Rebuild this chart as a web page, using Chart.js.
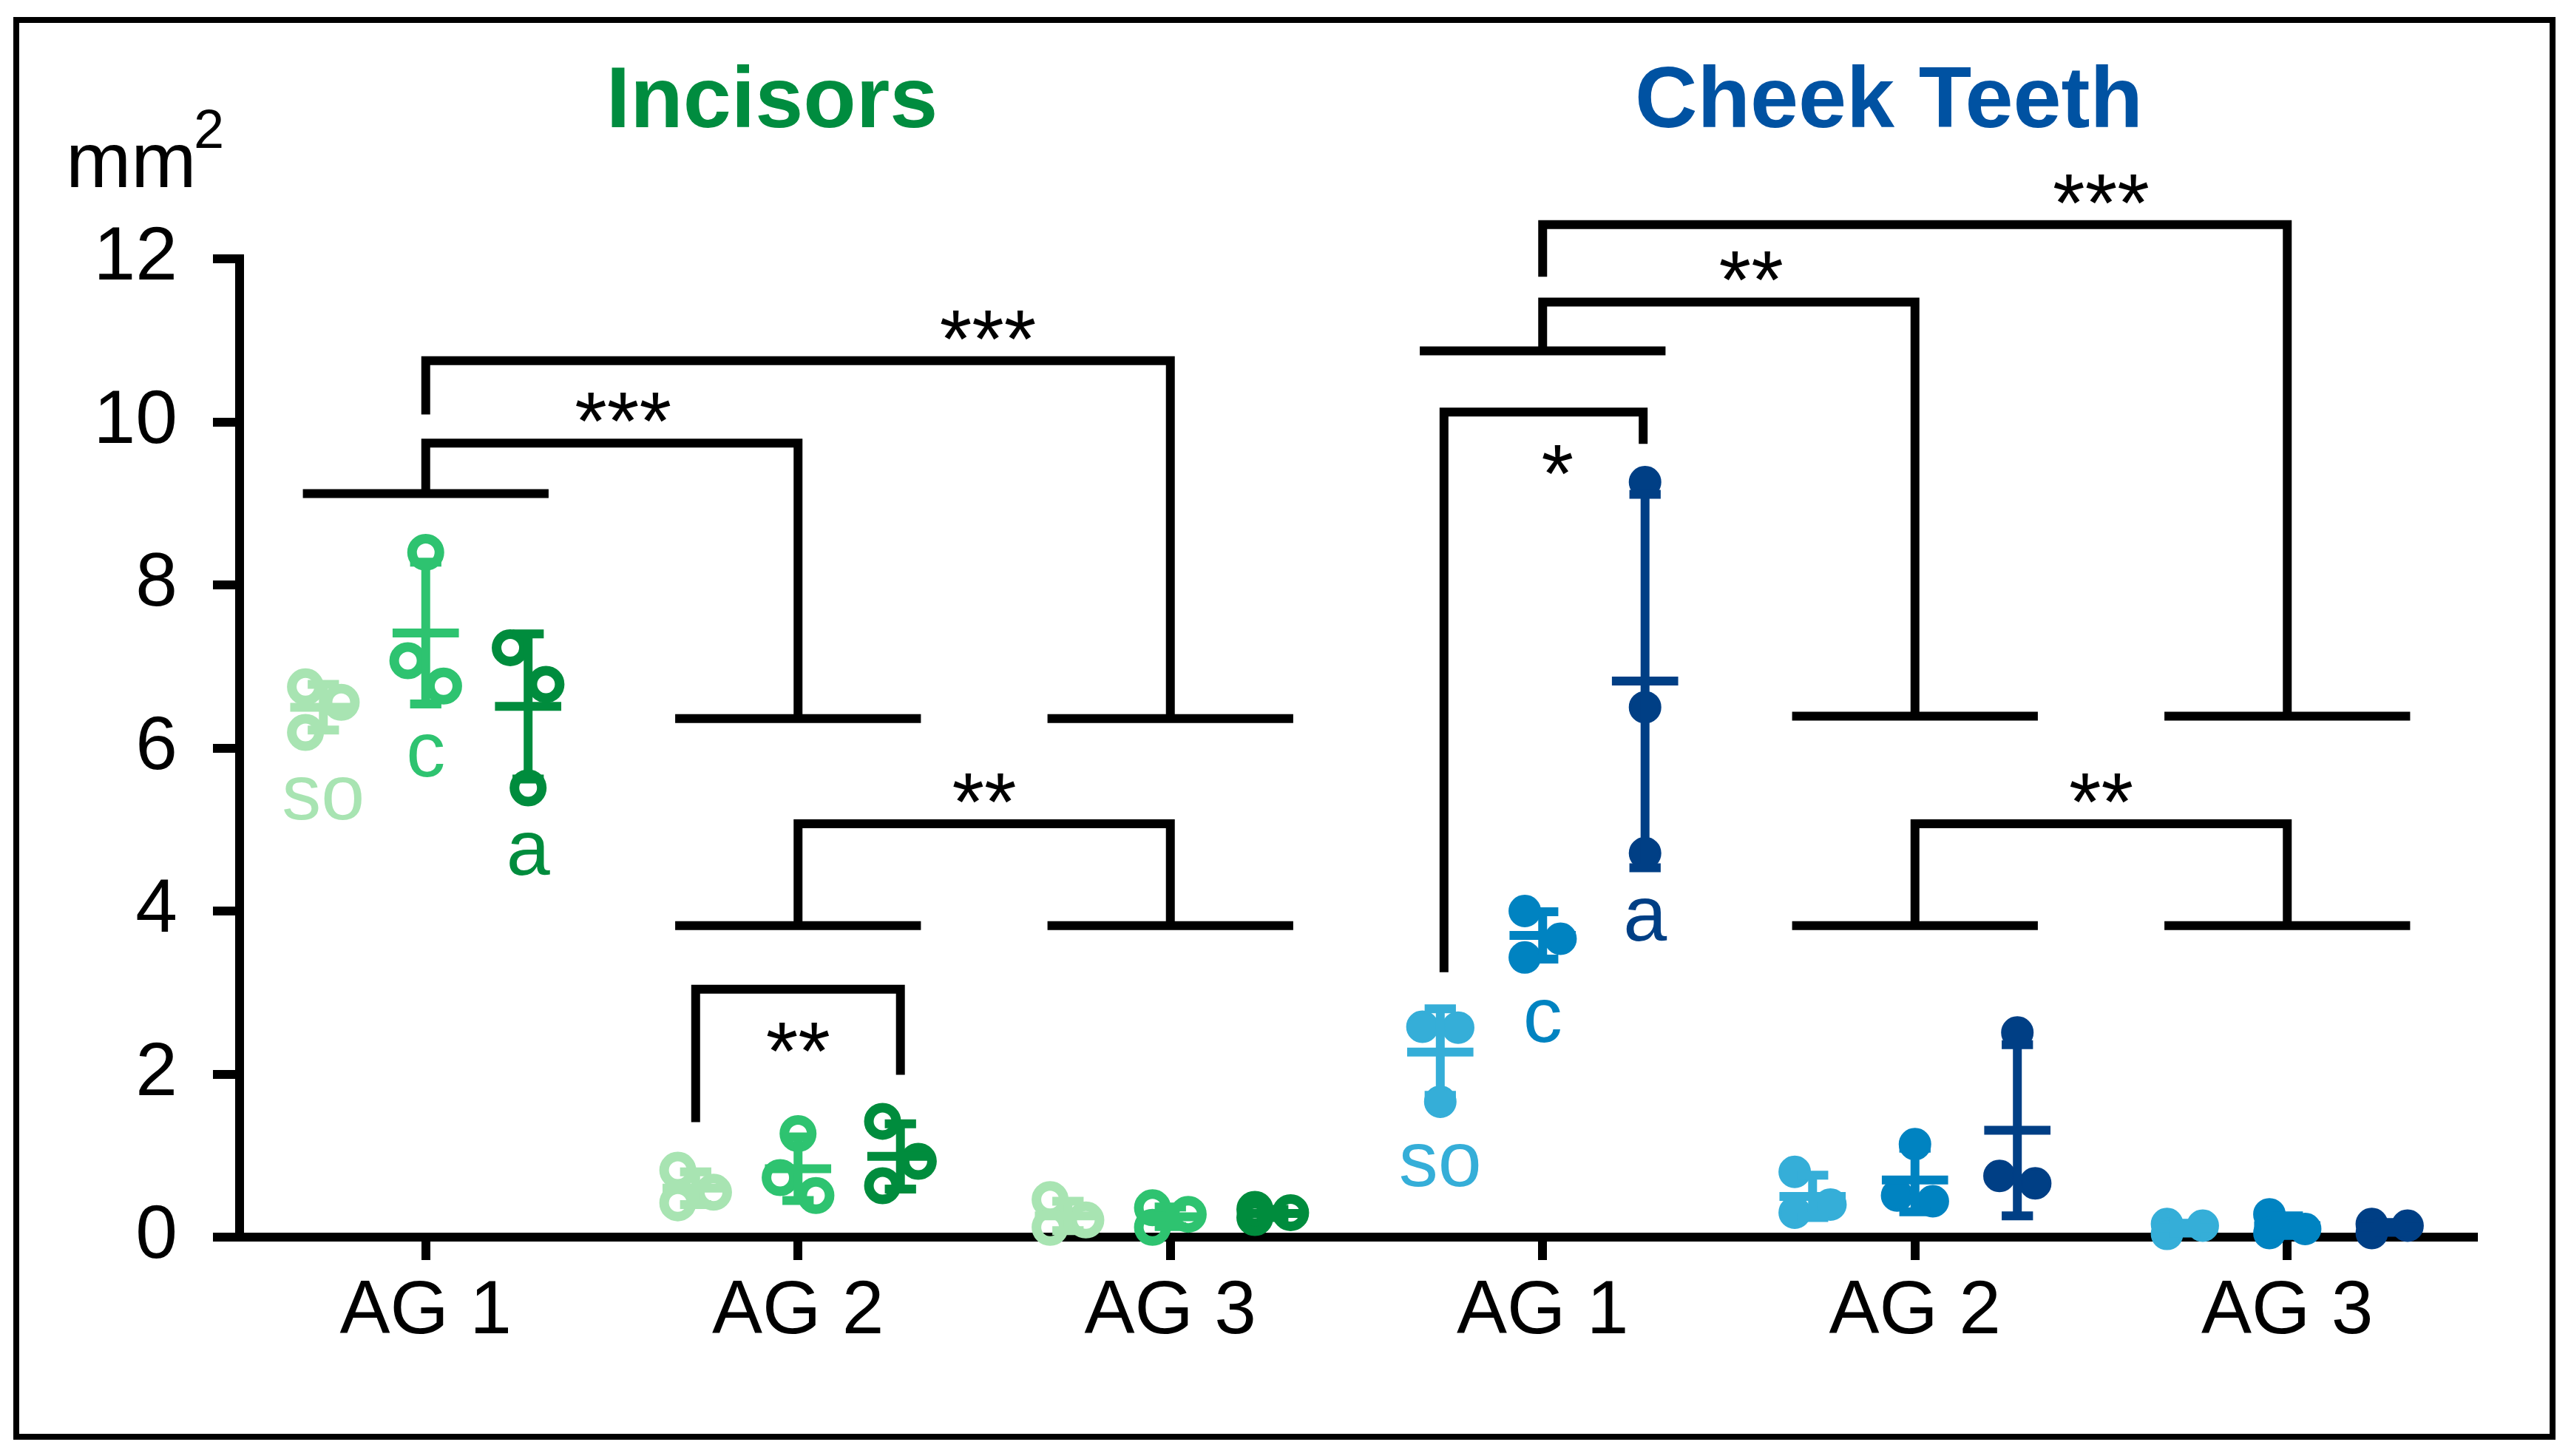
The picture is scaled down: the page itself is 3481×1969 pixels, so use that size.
<!DOCTYPE html>
<html>
<head>
<meta charset="utf-8">
<title>Incisors / Cheek Teeth</title>
<script src="https://cdn.jsdelivr.net/npm/chart.js@4.4.1/dist/chart.umd.min.js"></script>
<style>
  html, body { margin: 0; padding: 0; background: #fff; }
  canvas { display: block; }
</style>
</head>
<body>
<canvas id="teethChart" width="3481" height="1969"></canvas>
<script>
const categories = ['AG 1', 'AG 2', 'AG 3', 'AG 1', 'AG 2', 'AG 3'];
const subgroups = ['so', 'c', 'a'];
const panelTitles = ['Incisors', 'Cheek Teeth'];
const yTicks = [0, 2, 4, 6, 8, 10, 12];

// single animals (mm2), one list per category
const soValues = [[6.75, 6.56, 6.19], [0.82, 0.55, 0.42], [0.46, 0.21, 0.12], [2.58, 2.57, 1.66], [0.80, 0.40, 0.30], [0.16, 0.14, 0.04]];
const cValues = [[8.40, 7.07, 6.76], [1.27, 0.73, 0.51], [0.36, 0.28, 0.12], [4.00, 3.66, 3.43], [1.14, 0.51, 0.44], [0.28, 0.10, 0.05]];
const aValues = [[7.23, 6.78, 5.51], [1.42, 0.93, 0.63], [0.34, 0.30, 0.24], [9.26, 6.50, 4.71], [2.51, 0.75, 0.66], [0.16, 0.14, 0.05]];

// mean and SD bars
const soMean = [6.50, 0.60, 0.26, 2.27, 0.50, 0.11];
const soSD = [0.28, 0.20, 0.18, 0.53, 0.26, 0.06];
const cMean = [7.41, 0.84, 0.25, 3.70, 0.70, 0.14];
const cSD = [0.87, 0.39, 0.12, 0.29, 0.39, 0.12];
const aMean = [6.51, 0.99, 0.29, 6.82, 1.31, 0.12];
const aSD = [0.89, 0.40, 0.05, 2.29, 1.05, 0.06];

// significance: level lines over a category, and brackets between them
const groupLines = [[0, 9.12], [1, 6.36], [2, 6.36], [1, 3.82], [2, 3.82], [3, 10.87], [4, 6.39], [5, 6.39], [4, 3.82], [5, 3.82]];
const brackets = [
  { x1: 0, y1: 9.12, x2: 1, y2: 6.36, top: 9.74, text: '***', textX: 0.53 },
  { x1: 0, y1: 10.09, x2: 2, y2: 6.36, top: 10.75, text: '***', textX: 1.51 },
  { x1: 1, y1: 3.82, x2: 2, y2: 3.82, top: 5.07, text: '**', textX: 1.5 },
  { x1: 0.725, y1: 1.41, x2: 1.275, y2: 1.99, top: 3.04, text: '**', textX: 1.0, below: true },
  { x1: 3, y1: 10.87, x2: 4, y2: 6.39, top: 11.47, text: '**', textX: 3.56 },
  { x1: 3, y1: 11.78, x2: 5, y2: 6.39, top: 12.42, text: '***', textX: 4.5 },
  { x1: 2.735, y1: 3.25, x2: 3.27, y2: 9.73, top: 10.12, text: '*', textX: 3.04, below: true },
  { x1: 4, y1: 3.82, x2: 5, y2: 3.82, top: 5.07, text: '**', textX: 4.5 },
];

const FONT = '"Liberation Sans", Arial, Helvetica, sans-serif';
const SUB_STEP = 0.275;   // so / c / a side by side
const JITTER = 0.048;
const OVERLAP = 0.5;
const MEAN_HALF = 0.089;
const CAP_HALF = 0.042;

const palette = [
  ['#a8e4b2', '#2ec370', '#008c3d'],
  ['#35aed8', '#0083c1', '#003f85'],
];
const titleColors = ['#008c3f', '#0052a2'];

const series = [
  { values: soValues, mean: soMean, sd: soSD },
  { values: cValues, mean: cMean, sd: cSD },
  { values: aValues, mean: aMean, sd: aSD },
];

// push overlapping neighbours left/right like a small beeswarm
const spread = (values) => {
  const idx = values.map((v, i) => i).sort((a, b) => values[b] - values[a]);
  const offs = values.map(() => 0);
  let run = [idx[0]];
  const flush = () => {
    if (run.length > 1) run.forEach((k, j) => { offs[k] = (j % 2 ? 1 : -1) * JITTER; });
  };
  for (let j = 1; j < idx.length; j++) {
    if (values[idx[j - 1]] - values[idx[j]] < OVERLAP) {
      run.push(idx[j]);
    } else {
      flush();
      run = [idx[j]];
    }
  }
  flush();
  return offs;
};

const gap = (x) => ({ x: x, y: null });

const datasets = [];
[0, 1].forEach(panel => {
  const cats = [0, 1, 2].map(i => i + panel * 3);
  series.forEach((s, si) => {
    const color = palette[panel][si];
    const off = (si - 1) * SUB_STEP;
    const points = [];
    const bars = [];
    cats.forEach(ci => {
      const jit = spread(s.values[ci]);
      s.values[ci].forEach((v, k) => points.push({ x: ci + off + jit[k], y: v }));
      const cx = ci + off;
      const m = s.mean[ci];
      const lo = m - s.sd[ci];
      const hi = m + s.sd[ci];
      bars.push(
        { x: cx - MEAN_HALF, y: m }, { x: cx + MEAN_HALF, y: m }, gap(cx),
        { x: cx, y: lo }, { x: cx, y: hi }, gap(cx),
        { x: cx - CAP_HALF, y: hi }, { x: cx + CAP_HALF, y: hi }, gap(cx),
        { x: cx - CAP_HALF, y: lo }, { x: cx + CAP_HALF, y: lo }, gap(cx)
      );
    });
    datasets.push({
      label: subgroups[si] + ' points',
      data: points,
      order: 1,
      clip: false,
      pointStyle: 'circle',
      pointRadius: panel === 0 ? 18.5 : 20,
      pointBorderWidth: panel === 0 ? 13 : 4,
      pointBorderColor: color,
      pointBackgroundColor: panel === 0 ? 'rgba(0,0,0,0)' : color,
      pointHoverRadius: panel === 0 ? 18.5 : 20,
    });
    datasets.push({
      label: subgroups[si] + ' mean SD',
      data: bars,
      order: 0,
      clip: false,
      showLine: true,
      spanGaps: false,
      borderColor: color,
      borderWidth: 12,
      borderCapStyle: 'butt',
      pointRadius: 0,
      pointHoverRadius: 0,
    });
  });
});

const bracketData = [];
groupLines.forEach(([c, y]) => {
  bracketData.push({ x: c - 0.33, y: y }, { x: c + 0.33, y: y }, gap(c));
});
brackets.forEach(b => {
  bracketData.push(
    { x: b.x1, y: b.y1 }, { x: b.x1, y: b.top },
    { x: b.x2, y: b.top }, { x: b.x2, y: b.y2 }, gap(b.x2)
  );
});
datasets.push({
  label: 'significance',
  data: bracketData,
  order: 2,
  clip: false,
  showLine: true,
  spanGaps: false,
  borderColor: '#000',
  borderWidth: 12,
  borderCapStyle: 'butt',
  borderJoinStyle: 'miter',
  pointRadius: 0,
  pointHoverRadius: 0,
});

const decorPlugin = {
  id: 'decor',
  afterDatasetsDraw(chart) {
    const { ctx, scales: { x, y } } = chart;
    ctx.save();

    // outer frame
    ctx.strokeStyle = '#000';
    ctx.lineWidth = 8;
    ctx.strokeRect(22, 27, 3430, 1916);

    // stars
    ctx.fillStyle = '#000';
    ctx.font = `112px ${FONT}`;
    ctx.textAlign = 'center';
    ctx.textBaseline = 'alphabetic';
    brackets.forEach(b => {
      const cy = y.getPixelForValue(b.top) + (b.below ? 58 : -55);
      ctx.fillText(b.text, x.getPixelForValue(b.textX), cy + 64);
    });

    // so / c / a under the AG 1 groups
    ctx.font = `106px ${FONT}`;
    [0, 3].forEach(ci => {
      const panel = ci < 3 ? 0 : 1;
      const r = panel === 0 ? 25 : 22;
      series.forEach((s, si) => {
        const low = Math.min(...s.values[ci]);
        const bottom = Math.max(y.getPixelForValue(low) + r, y.getPixelForValue(s.mean[ci] - s.sd[ci]) + 6);
        ctx.fillStyle = palette[panel][si];
        ctx.fillText(subgroups[si], x.getPixelForValue(ci + (si - 1) * SUB_STEP), bottom + 92);
      });
    });

    // panel titles
    ctx.font = `bold 117px ${FONT}`;
    panelTitles.forEach((t, p) => {
      ctx.fillStyle = titleColors[p];
      ctx.fillText(t, x.getPixelForValue(1 + p * 3 - 0.07), 172);
    });

    // unit
    ctx.fillStyle = '#000';
    ctx.textAlign = 'left';
    ctx.font = `106px ${FONT}`;
    ctx.fillText('mm', 89, 253);
    ctx.font = `74px ${FONT}`;
    ctx.fillText('2', 262, 200);

    ctx.restore();
  },
};

new Chart(document.getElementById('teethChart'), {
  type: 'scatter',
  data: { datasets: datasets },
  plugins: [decorPlugin],
  options: {
    responsive: false,
    animation: false,
    events: [],
    layout: { padding: { left: 20, right: 136, top: 350, bottom: 96 } },
    plugins: {
      legend: { display: false },
      tooltip: { enabled: false },
    },
    scales: {
      x: {
        type: 'linear',
        min: -0.5,
        max: 5.5,
        afterBuildTicks: (scale) => { scale.ticks = categories.map((c, i) => ({ value: i })); },
        afterFit: (scale) => { scale.height = 200; },
        ticks: {
          autoSkip: false,
          maxRotation: 0,
          padding: 10,
          color: '#000',
          font: { family: FONT, size: 102 },
          callback: (value, index) => categories[index],
        },
        grid: {
          drawOnChartArea: false,
          drawTicks: true,
          tickLength: 31,
          tickWidth: 12,
          lineWidth: 12,
          tickColor: '#000',
          color: '#000',
        },
        border: { display: true, color: '#000', width: 12 },
      },
      y: {
        type: 'linear',
        min: yTicks[0],
        max: yTicks[yTicks.length - 1],
        afterBuildTicks: (scale) => { scale.ticks = yTicks.map(v => ({ value: v })); },
        afterFit: (scale) => { scale.width = 304; },
        ticks: {
          padding: 48,
          color: '#000',
          font: { family: FONT, size: 102 },
        },
        grid: {
          drawOnChartArea: false,
          drawTicks: true,
          tickLength: 36,
          tickWidth: 12,
          lineWidth: 12,
          tickColor: '#000',
          color: '#000',
        },
        border: { display: true, color: '#000', width: 12 },
      },
    },
  },
});
</script>
</body>
</html>
